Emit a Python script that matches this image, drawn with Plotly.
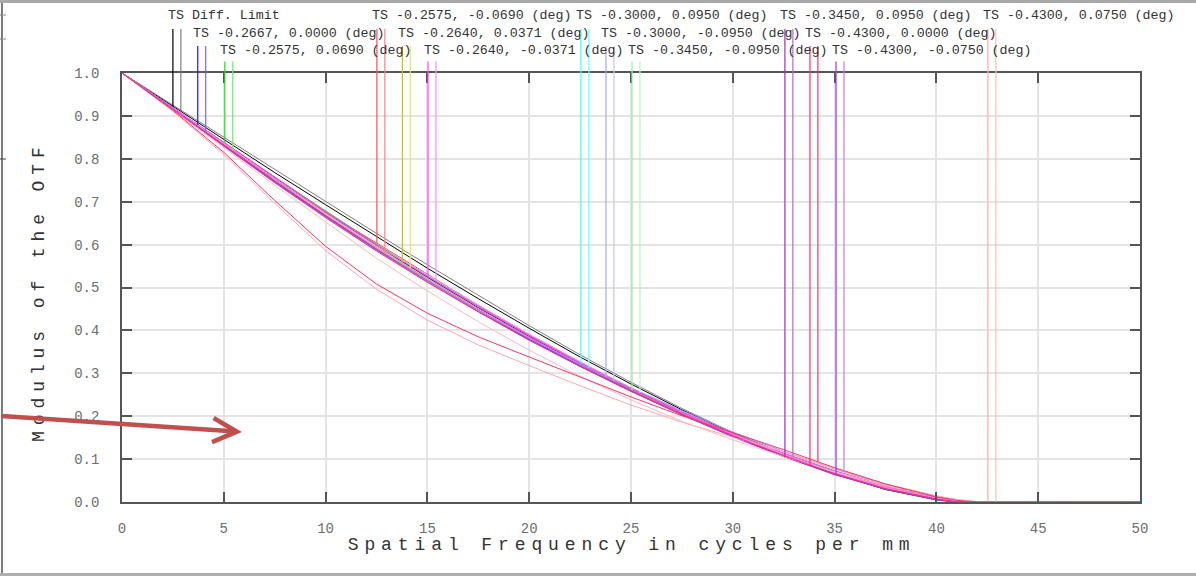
import numpy as np
import plotly.graph_objects as go

# ---------------- data ----------------
FREQ = [0, 2.5, 5, 7.5, 10, 12.5, 15, 17.5, 20, 22.5, 25, 27.5, 30, 32.5, 35, 37.5, 40, 41, 42, 50]

DIFF_T = [1.000, 0.922, 0.845, 0.768, 0.693, 0.618, 0.545, 0.474, 0.405, 0.338, 0.275, 0.215, 0.160, 0.111, 0.066, 0.029, 0.005, 0.000, 0.000, 0.000]
DIFF_S = [1.000, 0.925, 0.850, 0.775, 0.700, 0.626, 0.553, 0.481, 0.411, 0.343, 0.279, 0.218, 0.162, 0.112, 0.067, 0.030, 0.005, 0.000, 0.000, 0.000]
F1_T = [1.000, 0.919, 0.837, 0.755, 0.675, 0.598, 0.524, 0.453, 0.386, 0.322, 0.262, 0.206, 0.155, 0.108, 0.066, 0.031, 0.007, 0.001, 0.000, 0.000]
F1_S = [1.000, 0.917, 0.832, 0.748, 0.667, 0.589, 0.516, 0.446, 0.380, 0.318, 0.260, 0.206, 0.156, 0.111, 0.070, 0.035, 0.009, 0.002, 0.000, 0.000]
F2_T = [1.000, 0.920, 0.838, 0.757, 0.678, 0.601, 0.527, 0.456, 0.388, 0.324, 0.263, 0.207, 0.155, 0.108, 0.066, 0.031, 0.007, 0.000, 0.000, 0.000]
F2_S = [1.000, 0.918, 0.834, 0.751, 0.670, 0.592, 0.518, 0.448, 0.382, 0.320, 0.261, 0.206, 0.156, 0.110, 0.069, 0.034, 0.009, 0.002, 0.000, 0.000]
F3_T = [1.000, 0.919, 0.836, 0.754, 0.675, 0.604, 0.530, 0.458, 0.390, 0.326, 0.265, 0.208, 0.156, 0.109, 0.067, 0.032, 0.007, 0.000, 0.000, 0.000]
F3_S = [1.000, 0.917, 0.833, 0.750, 0.669, 0.593, 0.520, 0.450, 0.384, 0.321, 0.262, 0.207, 0.157, 0.111, 0.070, 0.035, 0.010, 0.003, 0.000, 0.000]
F4_T = [1.000, 0.919, 0.836, 0.754, 0.674, 0.597, 0.524, 0.454, 0.387, 0.323, 0.263, 0.207, 0.156, 0.109, 0.067, 0.032, 0.008, 0.001, 0.000, 0.000]
F4_S = [1.000, 0.918, 0.834, 0.751, 0.671, 0.594, 0.521, 0.451, 0.385, 0.322, 0.263, 0.208, 0.157, 0.111, 0.069, 0.034, 0.009, 0.002, 0.000, 0.000]
F5_T = [1.000, 0.919, 0.837, 0.756, 0.677, 0.600, 0.526, 0.455, 0.388, 0.324, 0.264, 0.208, 0.156, 0.109, 0.067, 0.032, 0.008, 0.001, 0.000, 0.000]
F5_S = [1.000, 0.918, 0.835, 0.753, 0.673, 0.597, 0.530, 0.459, 0.391, 0.327, 0.266, 0.210, 0.158, 0.111, 0.069, 0.033, 0.009, 0.002, 0.000, 0.000]
F6_T = [1.000, 0.918, 0.835, 0.752, 0.672, 0.596, 0.523, 0.453, 0.386, 0.324, 0.265, 0.209, 0.157, 0.110, 0.068, 0.033, 0.008, 0.001, 0.000, 0.000]
F6_S = [1.000, 0.917, 0.833, 0.750, 0.670, 0.593, 0.520, 0.451, 0.385, 0.323, 0.264, 0.209, 0.158, 0.112, 0.070, 0.035, 0.010, 0.003, 0.000, 0.000]
F7_T = [1.000, 0.917, 0.833, 0.749, 0.668, 0.590, 0.517, 0.448, 0.382, 0.320, 0.261, 0.206, 0.155, 0.109, 0.067, 0.032, 0.008, 0.001, 0.000, 0.000]
F7_S = [1.000, 0.916, 0.831, 0.747, 0.666, 0.589, 0.517, 0.448, 0.383, 0.321, 0.263, 0.208, 0.158, 0.112, 0.071, 0.036, 0.011, 0.003, 0.000, 0.000]
F8_T = [1.000, 0.918, 0.834, 0.751, 0.671, 0.594, 0.521, 0.451, 0.384, 0.321, 0.262, 0.206, 0.155, 0.109, 0.067, 0.032, 0.008, 0.001, 0.000, 0.000]
F8_S = [1.000, 0.917, 0.832, 0.749, 0.669, 0.592, 0.520, 0.451, 0.385, 0.323, 0.265, 0.210, 0.159, 0.113, 0.071, 0.036, 0.011, 0.003, 0.000, 0.000]
F9_T = [1.000, 0.917, 0.832, 0.748, 0.667, 0.589, 0.515, 0.445, 0.379, 0.317, 0.259, 0.204, 0.153, 0.106, 0.064, 0.030, 0.006, 0.000, 0.000, 0.000]
F9_S = [1.000, 0.916, 0.830, 0.746, 0.665, 0.588, 0.516, 0.447, 0.382, 0.321, 0.264, 0.210, 0.160, 0.114, 0.073, 0.038, 0.012, 0.004, 0.000, 0.000]
F10_T = [1.000, 0.916, 0.830, 0.745, 0.663, 0.585, 0.512, 0.443, 0.377, 0.316, 0.258, 0.204, 0.154, 0.108, 0.066, 0.031, 0.007, 0.000, 0.000, 0.000]
F10_S = [1.000, 0.913, 0.815, 0.703, 0.596, 0.508, 0.440, 0.385, 0.338, 0.291, 0.245, 0.201, 0.162, 0.122, 0.080, 0.042, 0.012, 0.004, 0.000, 0.000]
F11_T = [1.000, 0.917, 0.831, 0.747, 0.666, 0.588, 0.514, 0.444, 0.378, 0.316, 0.258, 0.203, 0.152, 0.106, 0.064, 0.030, 0.006, 0.000, 0.000, 0.000]
F11_S = [1.000, 0.916, 0.829, 0.744, 0.663, 0.586, 0.514, 0.446, 0.382, 0.322, 0.266, 0.213, 0.163, 0.118, 0.077, 0.041, 0.014, 0.005, 0.000, 0.000]
F12_T = [1.000, 0.911, 0.810, 0.696, 0.586, 0.496, 0.424, 0.366, 0.318, 0.271, 0.226, 0.186, 0.151, 0.117, 0.078, 0.042, 0.014, 0.006, 0.001, 0.000]
F12_S = [1.000, 0.914, 0.826, 0.738, 0.652, 0.568, 0.492, 0.420, 0.354, 0.293, 0.238, 0.188, 0.145, 0.106, 0.070, 0.038, 0.013, 0.005, 0.000, 0.000]

LABELS = [
    "TS Diff. Limit",
    "TS -0.2667, 0.0000 (deg)",
    "TS -0.2575, 0.0690 (deg)",
    "TS -0.2575, -0.0690 (deg)",
    "TS -0.2640, 0.0371 (deg)",
    "TS -0.2640, -0.0371 (deg)",
    "TS -0.3000, 0.0950 (deg)",
    "TS -0.3000, -0.0950 (deg)",
    "TS -0.3450, -0.0950 (deg)",
    "TS -0.3450, 0.0950 (deg)",
    "TS -0.4300, 0.0000 (deg)",
    "TS -0.4300, -0.0750 (deg)",
    "TS -0.4300, 0.0750 (deg)",
]
SERIES_T = [DIFF_T, F1_T, F2_T, F3_T, F4_T, F5_T, F6_T, F7_T, F8_T, F9_T, F10_T, F11_T, F12_T]
SERIES_S = [DIFF_S, F1_S, F2_S, F3_S, F4_S, F5_S, F6_S, F7_S, F8_S, F9_S, F10_S, F11_S, F12_S]
COLORS_T = ["#000000", "#1a1aff", "#22dd22", "#ff4d4d", "#c8c800", "#ff44ff", "#33ffff",
            "#a8a8ff", "#99ee99", "#a030b8", "#ff3366", "#9933ff", "#ffa8b0"]
COLORS_S = ["#808080", "#6b6bff", "#66ee66", "#ff8080", "#e6e666", "#ff88ff", "#66ffff",
            "#c4c4ff", "#b8f5b8", "#bb66cc", "#ff3366", "#b380ff", "#ffb8c0"]
# legend marker frequencies (T marker; the S marker sits just to the right)
MARK_FREQ = [2.5, 3.72, 5.05, 12.52, 13.77, 15.03, 22.54, 23.77, 25.05, 32.56, 33.79, 35.07, 42.53]
MARK_GAP = 0.39

X_TICKS = [0, 5, 10, 15, 20, 25, 30, 35, 40, 45, 50]
Y_TICKS = [0.0, 0.1, 0.2, 0.3, 0.4, 0.5, 0.6, 0.7, 0.8, 0.9, 1.0]

MONO = "Liberation Mono, Courier New, monospace"
X_TITLE = "Spatial Frequency in cycles per mm"
Y_TITLE = "Modulus of the OTF"

fig = go.Figure()

DRAW_ORDER = [0, 6, 8, 2, 4, 7, 1, 3, 5, 9, 11, 12, 10]
for i in DRAW_ORDER:
    fig.add_trace(go.Scatter(x=FREQ, y=SERIES_T[i], mode="lines",
                             line=dict(color=COLORS_T[i], width=1), name=LABELS[i] + " T",
                             showlegend=False, hoverinfo="skip"))
    fig.add_trace(go.Scatter(x=FREQ, y=SERIES_S[i], mode="lines",
                             line=dict(color=COLORS_S[i], width=1), name=LABELS[i] + " S",
                             showlegend=False, hoverinfo="skip"))

# legend labels and marker lines (Zemax style)
ROW_TEXT_Y = [1.1329, 1.0932, 1.0536]
ROW_LINE_TOP = [1.1026, 1.0629, 1.0268]
shapes = []
annotations = []
for i, lab in enumerate(LABELS):
    row = i % 3
    fT = MARK_FREQ[i]
    fS = MARK_FREQ[i] + MARK_GAP
    for f, ser, col in ((fT, SERIES_T[i], COLORS_T[i]), (fS, SERIES_S[i], COLORS_S[i])):
        v = float(np.interp(f, FREQ, ser))
        shapes.append(dict(type="line", xref="x", yref="y", x0=f, x1=f, y0=v, y1=1.0,
                           line=dict(color=col, width=1.2)))
        shapes.append(dict(type="line", xref="x", yref="paper", x0=f, x1=f, y0=1.0,
                           y1=ROW_LINE_TOP[row], line=dict(color=col, width=1.2)))
    annotations.append(dict(text=lab, xref="x", yref="paper", x=fT - 0.32, y=ROW_TEXT_Y[row],
                            xanchor="left", yanchor="middle", showarrow=False,
                            font=dict(family=MONO, size=13.3, color="#333333")))

# axis titles
annotations.append(dict(text=X_TITLE, xref="paper", yref="paper", x=0.5, y=-0.1006,
                        xanchor="center", yanchor="middle", showarrow=False,
                        font=dict(family=MONO, size=18, color="#333333")))
annotations.append(dict(text=Y_TITLE, xref="paper", yref="paper", x=-0.0815, y=0.49,
                        xanchor="center", yanchor="middle", showarrow=False, textangle=-90,
                        font=dict(family=MONO, size=18, color="#333333")))

# red arrow
annotations.append(dict(text="", xref="paper", yref="paper", x=0.1179, y=0.1632,
                        ax=-242, ay=-16, showarrow=True, arrowhead=5, arrowsize=1.05,
                        arrowwidth=4.5, arrowcolor="#C0504D", standoff=0, startstandoff=0))

# screenshot frame
shapes.append(dict(type="line", xref="paper", yref="paper", x0=-0.1179, x1=-0.1179,
                   y0=1.168, y1=-0.172, line=dict(color="#505050", width=1.5)))
shapes.append(dict(type="line", xref="paper", yref="paper", x0=-0.125, x1=1.06,
                   y0=1.1667, y1=1.1667, line=dict(color="#a8a8a8", width=3)))
shapes.append(dict(type="line", xref="paper", yref="paper", x0=-0.125, x1=1.06,
                   y0=-0.1690, y1=-0.1690, line=dict(color="#b0b0b0", width=3)))
for ypx, c in ((15, "#8a8a8a"), (39, "#8a8a8a"), (159, "#404040")):
    yp = (502 - ypx) / 429
    shapes.append(dict(type="line", xref="paper", yref="paper", x0=-0.1199, x1=-0.1140,
                       y0=yp, y1=yp, line=dict(color=c, width=1)))

axis_common = dict(
    showgrid=True, gridcolor="#e4e4e4", gridwidth=1.5,
    showline=True, linecolor="#555555", linewidth=1.5, mirror="ticks",
    ticks="inside", ticklen=10, tickwidth=1.5, tickcolor="#555555",
    tickfont=dict(family=MONO, size=14, color="#6d6d6d"), zeroline=False,
)

fig.update_layout(
    width=1196, height=576,
    margin=dict(l=122, r=56, t=73, b=74),
    paper_bgcolor="white", plot_bgcolor="white",
    showlegend=False,
    xaxis=dict(range=[0, 50], tickvals=X_TICKS, ticklabelstandoff=12, **axis_common),
    yaxis=dict(range=[0, 1], tickvals=Y_TICKS, tickformat=".1f", ticklabelstandoff=18, **axis_common),
    shapes=shapes,
    annotations=annotations,
)

post = """
var gd = document.getElementById('{plot_id}');
function fixSpacing(){
  gd.querySelectorAll('text').forEach(function(t){
    if (t.textContent === '%s' || t.textContent === '%s') { t.style.letterSpacing = '5.9px'; }
  });
}
fixSpacing();
gd.on('plotly_afterplot', fixSpacing);
""" % (X_TITLE, Y_TITLE)

fig.write_html("out.html", post_script=post)
